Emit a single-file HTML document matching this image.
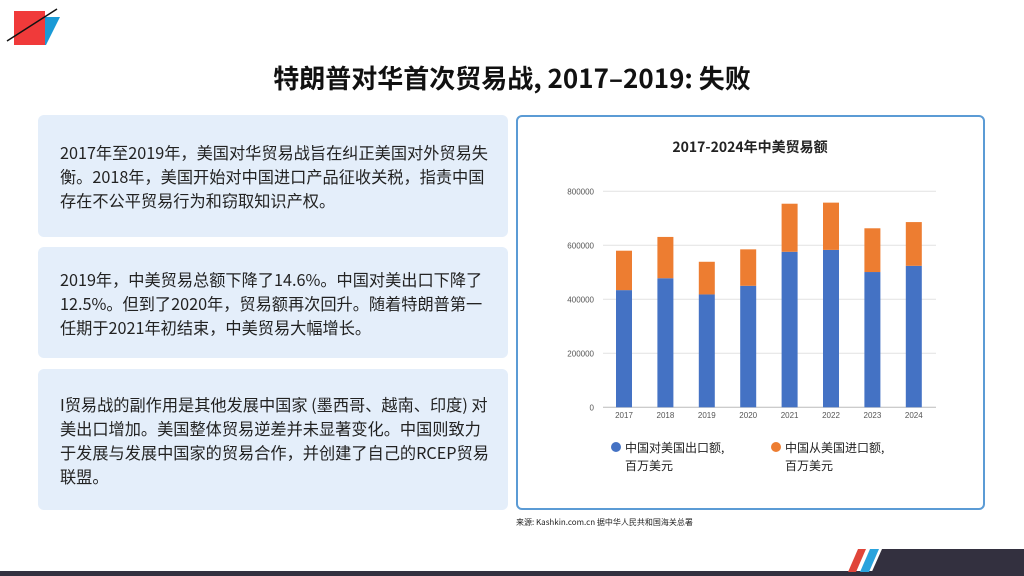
<!DOCTYPE html>
<html><head><meta charset="utf-8"><style>
body{margin:0;width:1024px;height:576px;overflow:hidden;background:#fff;font-family:"Noto Sans CJK SC","Liberation Sans",sans-serif;position:relative}
.box{position:absolute;left:38px;width:470px;background:#e4eefa;border-radius:6px;box-sizing:border-box;padding:0 16px 0 22px;display:flex;align-items:center;font-size:16.2px;line-height:24px;color:#222}
#title{position:absolute;top:59px;left:0;width:1024px;text-align:center;font-size:26px;font-weight:bold;color:#111}
#panel{position:absolute;left:516px;top:115px;width:469px;height:395px;border:2px solid #5b9bd5;border-radius:6px;box-sizing:border-box}
</style></head><body>
<svg width="70" height="50" style="position:absolute;left:0;top:0">
<polygon points="44,17 60,17 46,45 44,45" fill="#1a9ad6"/>
<rect x="14" y="11" width="31" height="34" fill="#f03a3a"/>
<line x1="7" y1="41" x2="57" y2="9" stroke="#111" stroke-width="1.5"/>
</svg>
<div id="title">特朗普对华首次贸易战, 2017–2019: 失败</div>
<div class="box" style="top:115px;height:122px">2017年至2019年，美国对华贸易战旨在纠正美国对外贸易失衡。2018年，美国开始对中国进口产品征收关税，指责中国存在不公平贸易行为和窃取知识产权。</div>
<div class="box" style="top:247px;height:111px">2019年，中美贸易总额下降了14.6%。中国对美出口下降了12.5%。但到了2020年，贸易额再次回升。随着特朗普第一任期于2021年初结束，中美贸易大幅增长。</div>
<div class="box" style="top:369px;height:141px">I贸易战的副作用是其他发展中国家 (墨西哥、越南、印度) 对美出口增加。美国整体贸易逆差并未显著变化。中国则致力于发展与发展中国家的贸易合作，并创建了自己的RCEP贸易联盟。</div>
<div id="panel"></div>
<svg id="chart" width="1024" height="576" style="position:absolute;left:0;top:0"></svg>
<div style="position:absolute;left:516px;top:517px;font-size:8px;color:#222">来源: Kashkin.com.cn 据中华人民共和国海关总署</div>
<svg width="1024" height="576" style="position:absolute;left:0;top:0">
<rect x="0" y="571" width="1024" height="5" fill="#33303f"/>
<polygon points="882,549 1024,549 1024,576 870,576" fill="#33303f"/>
<polygon points="858,549 866,549 856,572 848,572" fill="#e0453a"/>
<polygon points="870,549 879,549 869,572 860,572" fill="#2aa3dd"/>
</svg>
<script>
const years=["2017","2018","2019","2020","2021","2022","2023","2024"];
const exportsUS=[434000,478000,418000,450000,576000,583000,501000,524000];
const importsUS=[146000,153000,121000,135000,178000,175000,162000,162000];
const yTicks=[0,200000,400000,600000,800000];
const NS="http://www.w3.org/2000/svg";
const svg=document.getElementById('chart');
const y0=407.3,yTop=191.3,yMax=800000;
const Y=v=>y0-(v/yMax)*(y0-yTop);
const X=i=>624+i*41.4;
function mk(t,a,txt){const e=document.createElementNS(NS,t);for(const k in a)e.setAttribute(k,a[k]);if(txt!==undefined)e.textContent=txt;svg.appendChild(e);return e;}
let t=mk('text',{x:750,y:152,'text-anchor':'middle','font-size':14,'font-weight':'bold',fill:'#222'},'2017-2024年中美贸易额');


yTicks.forEach(v=>{
 const g=mk('line',{x1:603,x2:936,y1:Y(v),y2:Y(v),stroke:v===0?'#bbb':'#e2e2e2','stroke-width':1});
 
 
 const l=mk('text',{x:594,y:Y(v)+3,'text-anchor':'end','font-size':8,'font-family':'Liberation Sans',fill:'#555'},String(v));
 
 
});
years.forEach((yr,i)=>{
 const b=mk('rect',{x:X(i)-8,width:16,y:Y(exportsUS[i]),height:y0-Y(exportsUS[i]),fill:'#4472c4'});
 
 
 const tot=exportsUS[i]+importsUS[i];
 const c=mk('rect',{x:X(i)-8,width:16,y:Y(tot),height:Y(exportsUS[i])-Y(tot),fill:'#ed7d31'});
 
 
 const l=mk('text',{x:X(i),y:418,'text-anchor':'middle','font-size':8,'font-family':'Liberation Sans',fill:'#555'},yr);
 
 
});
[[616,'#4472c4','中国对美国出口额,'],[776,'#ed7d31','中国从美国进口额,']].forEach(([x,c,s])=>{
 const d=mk('circle',{cx:x,cy:447,r:5,fill:c});
 
 
 const a=mk('text',{x:x+9,y:452,'font-size':12,fill:'#222'},s);
 
 
 const b=mk('text',{x:x+9,y:470,'font-size':12,fill:'#222'},'百万美元');
 
 
});
</script>
</body></html>
